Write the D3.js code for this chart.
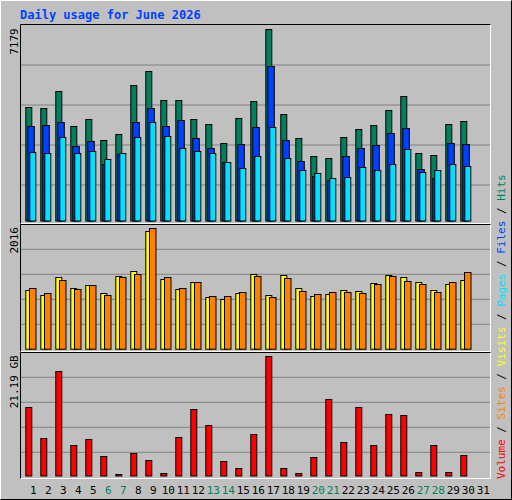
<!DOCTYPE html>
<html><head><meta charset="utf-8">
<script src="https://cdn.jsdelivr.net/npm/d3@7"></script>
<style>body{margin:0;background:#fff}svg text{font-family:"DejaVu Sans Mono",monospace;}</style>
</head><body><svg id="c" width="512" height="500"></svg>
<script>
const days = d3.range(1,32);
const weekends = [6,7,13,14,20,21,27,28];
const hits  = [4280,4242,4857,3564,3828,3037,3263,5070,5597,4543,4543,3828,3640,2924,3865,4505,7179,4016,3112,2435,2359,3150,3451,3602,4167,4656,2548,2472,3640,3752];
const files = [3564,3602,3715,2811,2999,2134,2510,3715,4242,3564,3790,3112,2736,2209,2887,3527,5786,3037,2246,1682,1531,2435,2736,2849,3301,3489,1945,1606,2924,2887];
const pages = [2585,2548,3150,2548,2623,2322,2548,3150,3715,3188,2736,2623,2548,2209,1983,2435,3527,2359,1908,1795,1606,1644,2021,1908,2134,2698,1832,1908,2134,2058];
const visits= [975,891,1192,1008,1058,924,1208,1292,1960,1158,991,1108,858,824,924,1242,891,1225,1008,874,908,975,958,1091,1225,1192,1108,975,1075,1142];
const sites = [1008,924,1142,991,1058,891,1192,1242,2016,1192,1008,1108,874,874,941,1208,858,1175,958,908,941,941,924,1075,1208,1125,1075,941,1108,1275];
const volume= [12.11,6.59,18.52,5.34,6.41,3.38,0.18,3.92,2.67,0.36,6.77,11.75,8.90,2.49,1.25,7.30,21.19,1.25,0.53,3.21,13.53,5.88,12.11,5.34,10.86,10.68,0.71,5.34,0.71,3.56];
const maxLabels = ["7179","2016","21.19 GB"];

const svg = d3.select("#c");
const BG="#c0c0c0", GRID="#808080";
svg.append("rect").attr("width",512).attr("height",500).attr("fill",BG);
// outer bevel
svg.append("path").attr("d","M0.5,499.5V0.5H511.5").attr("stroke","#fff").attr("fill","none");
svg.append("path").attr("d","M0.5,499.5H511.5V0.5").attr("stroke","#000").attr("fill","none");

svg.append("text").attr("x",20).attr("y",19).attr("fill","#0040ff").attr("font-size",12).attr("font-weight","bold").text("Daily usage for June 2026");

const x = d3.scaleLinear().domain([1,31]).range([25.3,25.3+15*30]);

const panels = [
  {y0:24,y1:224,base:220.5,top:29.3,max:7179,grid:[65,105,145,185]},
  {y0:224,y1:352,base:348.7,top:228,max:2016,grid:[249.3,274.3,299.3,324.3]},
  {y0:352,y1:479,base:475.5,top:356.3,max:21.19,grid:[377.3,402.3,427.3,452.3]}
];
panels.forEach((p,i)=>{
  p.y = d3.scaleLinear().domain([0,p.max]).range([p.base,p.top]);
  const g = svg.append("g");
  p.grid.forEach(gy=>g.append("line").attr("x1",21).attr("x2",490).attr("y1",gy).attr("y2",gy).attr("stroke",GRID));
  g.append("path").attr("d",`M20.5,${p.y1}V${p.y0+0.5}H491`).attr("stroke","#000").attr("fill","none");
  g.append("path").attr("d",`M20.5,${p.y1-0.5}H490.5V${p.y0+0.5}`).attr("stroke","#fff").attr("fill","none");
  svg.append("text").attr("transform",`translate(18,${p.top-1}) rotate(-90)`).attr("text-anchor","end")
    .attr("font-size",11).attr("fill","#000").text(maxLabels[i]);
});

function bars(data, panel, off, w, color){
  svg.append("g").selectAll("rect").data(data).join("rect")
    .attr("x",(d,i)=>x(i+1)+off+0.5).attr("width",w-1)
    .attr("y",d=>Math.round(panel.y(d))+0.5).attr("height",d=>Math.max(0,panel.base-Math.round(panel.y(d))))
    .attr("fill",color).attr("stroke","#000");
}
bars(hits,panels[0],0,7,"#00805c");
bars(files,panels[0],2,7.5,"#0040ff");
bars(pages,panels[0],4,7,"#00e0ff");
bars(visits,panels[1],0,7,"#ffff00");
bars(sites,panels[1],3.7,7.5,"#ff8000");
bars(volume,panels[2],0,7,"#ff0000");

svg.append("g").selectAll("text").data(days).join("text")
  .attr("x",d=>x(d)+8).attr("y",494).attr("text-anchor","middle").attr("font-size",11)
  .attr("fill",d=>weekends.includes(d)?"#00805c":"#000").text(d=>d);

const legend=[["Volume","#ff0000"],[" / ","#000"],["Sites","#ff8000"],[" / ","#000"],["Visits","#ffff00"],[" / ","#000"],["Pages","#00e0ff"],[" / ","#000"],["Files","#0040ff"],[" / ","#000"],["Hits","#00805c"]];
const lt = svg.append("text").attr("transform","translate(505,479) rotate(-90)").attr("font-size",11).attr("xml:space","preserve");
legend.forEach(([t,c])=>lt.append("tspan").attr("fill",c).text(t));
</script></body></html>
